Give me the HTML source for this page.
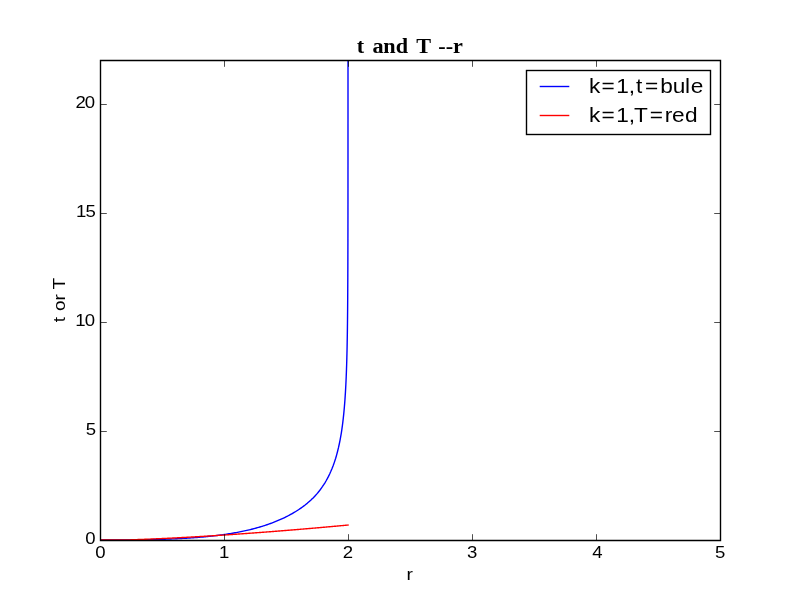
<!DOCTYPE html>
<html lang="en">
<head>
<meta charset="utf-8">
<title>t and T --r</title>
<style>
html,body{margin:0;padding:0;background:#fff;}
body{width:800px;height:600px;overflow:hidden;font-family:"Liberation Sans",sans-serif;}
svg{display:block;will-change:transform;}
text{fill:#000;filter:grayscale(1);}
</style>
</head>
<body>
<svg width="800" height="600" viewBox="0 0 800 600">
<rect x="0" y="0" width="800" height="600" fill="#ffffff"/>
<defs><clipPath id="ax"><rect x="100" y="60" width="620" height="480"/></clipPath></defs>

<g clip-path="url(#ax)" fill="none" stroke-width="1.389" stroke-linejoin="round" stroke-linecap="square">
<path d="M100.00 540.00 L101.18 540.00 L102.37 540.00 L103.55 540.00 L104.74 540.00 L105.92 540.00 L107.10 540.00 L108.29 540.00 L109.47 539.99 L110.66 539.99 L111.84 539.99 L113.02 539.99 L114.21 539.99 L115.39 539.98 L116.57 539.98 L117.76 539.97 L118.94 539.97 L120.13 539.96 L121.31 539.96 L122.49 539.95 L123.68 539.95 L124.86 539.94 L126.05 539.93 L127.23 539.92 L128.41 539.91 L129.60 539.90 L130.78 539.89 L131.97 539.88 L133.15 539.87 L134.33 539.86 L135.52 539.85 L136.70 539.83 L137.89 539.82 L139.07 539.80 L140.25 539.79 L141.44 539.77 L142.62 539.75 L143.81 539.73 L144.99 539.71 L146.17 539.69 L147.36 539.67 L148.54 539.64 L149.72 539.62 L150.91 539.60 L152.09 539.57 L153.28 539.54 L154.46 539.51 L155.64 539.48 L156.83 539.45 L158.01 539.42 L159.20 539.39 L160.38 539.35 L161.56 539.32 L162.75 539.28 L163.93 539.24 L165.12 539.20 L166.30 539.16 L167.48 539.12 L168.67 539.07 L169.85 539.03 L171.04 538.98 L172.22 538.93 L173.40 538.88 L174.59 538.83 L175.77 538.77 L176.95 538.72 L178.14 538.66 L179.32 538.60 L180.51 538.54 L181.69 538.47 L182.87 538.41 L184.06 538.34 L185.24 538.27 L186.43 538.20 L187.61 538.13 L188.79 538.05 L189.98 537.97 L191.16 537.89 L192.35 537.81 L193.53 537.73 L194.71 537.64 L195.90 537.55 L197.08 537.46 L198.27 537.36 L199.45 537.26 L200.63 537.16 L201.82 537.06 L203.00 536.95 L204.18 536.85 L205.37 536.73 L206.55 536.62 L207.74 536.50 L208.92 536.38 L210.10 536.26 L211.29 536.13 L212.47 536.00 L213.66 535.87 L214.84 535.73 L216.02 535.59 L217.21 535.44 L218.39 535.30 L219.58 535.14 L220.76 534.99 L221.94 534.83 L223.13 534.67 L224.31 534.50 L225.50 534.33 L226.68 534.15 L227.86 533.97 L229.05 533.78 L230.23 533.59 L231.42 533.40 L232.60 533.20 L233.78 533.00 L234.97 532.79 L236.15 532.57 L237.33 532.35 L238.52 532.13 L239.70 531.90 L240.89 531.66 L242.07 531.42 L243.25 531.18 L244.44 530.92 L245.62 530.66 L246.81 530.40 L247.99 530.12 L249.17 529.85 L250.36 529.56 L251.54 529.27 L252.73 528.97 L253.91 528.66 L255.09 528.35 L256.28 528.03 L257.46 527.70 L258.65 527.36 L259.83 527.02 L261.01 526.66 L262.20 526.30 L263.38 525.93 L264.56 525.55 L265.75 525.16 L266.93 524.77 L268.12 524.36 L269.30 523.94 L270.48 523.52 L271.67 523.08 L272.85 522.63 L274.04 522.17 L275.22 521.71 L276.40 521.23 L277.59 520.73 L278.77 520.23 L279.96 519.72 L281.14 519.19 L282.32 518.65 L283.51 518.10 L284.69 517.53 L285.88 516.95 L287.06 516.36 L288.24 515.75 L289.43 515.12 L290.61 514.48 L291.79 513.83 L292.98 513.15 L294.16 512.46 L295.35 511.75 L296.53 511.02 L297.71 510.26 L298.90 509.49 L300.08 508.69 L301.27 507.87 L302.45 507.02 L303.63 506.14 L304.82 505.24 L306.00 504.30 L307.19 503.34 L308.37 502.33 L309.55 501.29 L310.74 500.21 L311.92 499.09 L313.11 497.92 L314.29 496.70 L315.47 495.43 L316.66 494.10 L317.84 492.72 L319.03 491.26 L320.21 489.74 L321.39 488.13 L322.58 486.44 L323.76 484.66 L324.94 482.78 L326.13 480.77 L327.31 478.65 L328.50 476.38 L329.68 473.95 L330.86 471.33 L332.05 468.51 L333.23 465.45 L334.42 462.11 L335.60 458.44 L335.60 458.44 L336.65 454.87 L337.60 451.27 L338.48 447.66 L339.28 444.02 L340.02 440.37 L340.69 436.70 L341.31 433.02 L341.87 429.33 L342.39 425.62 L342.86 421.90 L343.29 418.17 L343.69 414.43 L344.05 410.69 L344.39 406.93 L344.69 403.17 L344.97 399.40 L345.22 395.62 L345.46 391.84 L345.67 388.06 L345.87 384.27 L346.05 380.47 L346.21 376.67 L346.36 372.87 L346.50 369.06 L346.63 365.26 L346.74 361.44 L346.85 357.63 L346.95 353.81 L347.04 349.99 L347.12 346.17 L347.19 342.35 L347.26 338.53 L347.32 334.70 L347.38 330.87 L347.43 327.04 L347.48 323.21 L347.52 319.38 L347.56 315.55 L347.60 311.72 L347.63 307.89 L347.66 304.05 L347.69 300.22 L347.72 296.38 L347.74 292.55 L347.76 288.71 L347.78 284.87 L347.80 281.04 L347.82 277.20 L347.83 273.36 L347.85 269.52 L347.86 265.68 L347.87 261.84 L347.88 258.00 L347.89 254.16 L347.90 250.32 L347.91 246.48 L347.92 242.64 L347.92 238.80 L347.93 234.96 L347.94 231.12 L347.94 227.28 L347.95 223.44 L347.95 219.60 L347.96 215.76 L347.96 211.92 L347.96 208.08 L347.97 204.23 L347.97 200.39 L347.97 196.55 L347.97 192.71 L347.98 188.87 L347.98 185.03 L347.98 181.19 L347.98 177.34 L347.98 173.50 L347.98 169.66 L347.99 165.82 L347.99 161.98 L347.99 158.13 L347.99 154.29 L347.99 150.45 L347.99 146.61 L347.99 142.77 L347.99 138.92 L347.99 135.08 L347.99 131.24 L347.99 127.40 L347.99 123.56 L348.00 119.71 L348.00 115.87 L348.00 112.03 L348.00 108.19 L348.00 104.35 L348.00 100.50 L348.00 96.66 L348.00 92.82 L348.00 88.98 L348.00 85.14 L348.00 81.29 L348.00 77.45 L348.00 73.61 L348.00 69.77 L348.00 65.92 L348.00 62.08 L348.00 58.24 L348.00 54.40 L348.00 50.56 L348.00 46.71 L348.00 42.87 L348.00 39.03 L348.00 35.19 L348.00 31.34 L348.00 27.50 L348.00 23.66 L348.00 19.82 L348.00 16.36" stroke="#0000ff"/>
<path d="M100.00 540.00 L100.62 540.00 L101.24 540.00 L101.86 540.00 L102.48 540.00 L103.10 540.00 L103.72 540.00 L104.34 540.00 L104.96 540.00 L105.58 540.00 L106.20 540.00 L106.82 540.00 L107.44 540.00 L108.06 540.00 L108.68 540.00 L109.30 540.00 L109.92 540.00 L110.54 540.00 L111.16 540.00 L111.78 540.00 L112.40 540.00 L113.02 540.00 L113.64 540.00 L114.26 540.00 L114.88 540.00 L115.50 540.00 L116.12 540.00 L116.74 540.00 L117.36 540.00 L117.98 540.00 L118.60 540.00 L119.22 540.00 L119.84 540.00 L120.46 540.00 L121.08 540.00 L121.70 540.00 L122.32 540.00 L122.94 540.00 L123.56 540.00 L124.18 540.00 L124.80 539.99 L125.42 539.97 L126.04 539.96 L126.66 539.94 L127.28 539.92 L127.90 539.90 L128.52 539.88 L129.14 539.86 L129.76 539.84 L130.38 539.82 L131.00 539.80 L131.62 539.78 L132.24 539.76 L132.86 539.74 L133.48 539.71 L134.10 539.69 L134.72 539.67 L135.34 539.65 L135.96 539.63 L136.58 539.61 L137.20 539.58 L137.82 539.56 L138.44 539.54 L139.06 539.52 L139.68 539.49 L140.30 539.47 L140.92 539.45 L141.54 539.42 L142.16 539.40 L142.78 539.37 L143.40 539.35 L144.02 539.33 L144.64 539.30 L145.26 539.28 L145.88 539.25 L146.50 539.23 L147.12 539.20 L147.74 539.18 L148.36 539.15 L148.98 539.13 L149.60 539.10 L150.22 539.07 L150.84 539.05 L151.46 539.02 L152.08 539.00 L152.70 538.97 L153.32 538.94 L153.94 538.92 L154.56 538.89 L155.18 538.86 L155.80 538.83 L156.42 538.81 L157.04 538.78 L157.66 538.75 L158.28 538.72 L158.90 538.69 L159.52 538.67 L160.14 538.64 L160.76 538.61 L161.38 538.58 L162.00 538.55 L162.62 538.52 L163.24 538.49 L163.86 538.46 L164.48 538.43 L165.10 538.41 L165.72 538.38 L166.34 538.35 L166.96 538.32 L167.58 538.29 L168.20 538.26 L168.82 538.22 L169.44 538.19 L170.06 538.16 L170.68 538.13 L171.30 538.10 L171.92 538.07 L172.54 538.04 L173.16 538.01 L173.78 537.98 L174.40 537.94 L175.02 537.91 L175.64 537.88 L176.26 537.85 L176.88 537.82 L177.50 537.78 L178.12 537.75 L178.74 537.72 L179.36 537.69 L179.98 537.65 L180.60 537.62 L181.22 537.59 L181.84 537.56 L182.46 537.52 L183.08 537.49 L183.70 537.46 L184.32 537.42 L184.94 537.39 L185.56 537.35 L186.18 537.32 L186.80 537.29 L187.42 537.25 L188.04 537.22 L188.66 537.18 L189.28 537.15 L189.90 537.11 L190.52 537.08 L191.14 537.04 L191.76 537.01 L192.38 536.97 L193.00 536.94 L193.62 536.90 L194.24 536.87 L194.86 536.83 L195.48 536.79 L196.10 536.76 L196.72 536.72 L197.34 536.69 L197.96 536.65 L198.58 536.61 L199.20 536.58 L199.82 536.54 L200.44 536.50 L201.06 536.47 L201.68 536.43 L202.30 536.39 L202.92 536.36 L203.54 536.32 L204.16 536.28 L204.78 536.24 L205.40 536.21 L206.02 536.17 L206.64 536.13 L207.26 536.09 L207.88 536.05 L208.50 536.02 L209.12 535.98 L209.74 535.94 L210.36 535.90 L210.98 535.86 L211.60 535.82 L212.22 535.78 L212.84 535.74 L213.46 535.71 L214.08 535.67 L214.70 535.63 L215.32 535.59 L215.94 535.55 L216.56 535.51 L217.18 535.47 L217.80 535.43 L218.42 535.39 L219.04 535.35 L219.66 535.31 L220.28 535.27 L220.90 535.23 L221.52 535.19 L222.14 535.15 L222.76 535.11 L223.38 535.07 L224.00 535.03 L224.62 534.98 L225.24 534.94 L225.86 534.90 L226.48 534.86 L227.10 534.82 L227.72 534.78 L228.34 534.74 L228.96 534.69 L229.58 534.65 L230.20 534.61 L230.82 534.57 L231.44 534.53 L232.06 534.49 L232.68 534.44 L233.30 534.40 L233.92 534.36 L234.54 534.32 L235.16 534.27 L235.78 534.23 L236.40 534.19 L237.02 534.14 L237.64 534.10 L238.26 534.06 L238.88 534.01 L239.50 533.97 L240.12 533.93 L240.74 533.88 L241.36 533.84 L241.98 533.80 L242.60 533.75 L243.22 533.71 L243.84 533.67 L244.46 533.62 L245.08 533.58 L245.70 533.53 L246.32 533.49 L246.94 533.44 L247.56 533.40 L248.18 533.35 L248.80 533.31 L249.42 533.26 L250.04 533.22 L250.66 533.17 L251.28 533.13 L251.90 533.08 L252.52 533.04 L253.14 532.99 L253.76 532.95 L254.38 532.90 L255.00 532.86 L255.62 532.81 L256.24 532.77 L256.86 532.72 L257.48 532.67 L258.10 532.63 L258.72 532.58 L259.34 532.53 L259.96 532.49 L260.58 532.44 L261.20 532.40 L261.82 532.35 L262.44 532.30 L263.06 532.25 L263.68 532.21 L264.30 532.16 L264.92 532.11 L265.54 532.07 L266.16 532.02 L266.78 531.97 L267.40 531.92 L268.02 531.88 L268.64 531.83 L269.26 531.78 L269.88 531.73 L270.50 531.69 L271.12 531.64 L271.74 531.59 L272.36 531.54 L272.98 531.49 L273.60 531.44 L274.22 531.40 L274.84 531.35 L275.46 531.30 L276.08 531.25 L276.70 531.20 L277.32 531.15 L277.94 531.10 L278.56 531.05 L279.18 531.01 L279.80 530.96 L280.42 530.91 L281.04 530.86 L281.66 530.81 L282.28 530.76 L282.90 530.71 L283.52 530.66 L284.14 530.61 L284.76 530.56 L285.38 530.51 L286.00 530.46 L286.62 530.41 L287.24 530.36 L287.86 530.31 L288.48 530.26 L289.10 530.21 L289.72 530.16 L290.34 530.11 L290.96 530.06 L291.58 530.01 L292.20 529.95 L292.82 529.90 L293.44 529.85 L294.06 529.80 L294.68 529.75 L295.30 529.70 L295.92 529.65 L296.54 529.60 L297.16 529.54 L297.78 529.49 L298.40 529.44 L299.02 529.39 L299.64 529.34 L300.26 529.29 L300.88 529.23 L301.50 529.18 L302.12 529.13 L302.74 529.08 L303.36 529.02 L303.98 528.97 L304.60 528.92 L305.22 528.87 L305.84 528.81 L306.46 528.76 L307.08 528.71 L307.70 528.66 L308.32 528.60 L308.94 528.55 L309.56 528.50 L310.18 528.44 L310.80 528.39 L311.42 528.34 L312.04 528.28 L312.66 528.23 L313.28 528.18 L313.90 528.12 L314.52 528.07 L315.14 528.01 L315.76 527.96 L316.38 527.91 L317.00 527.85 L317.62 527.80 L318.24 527.74 L318.86 527.69 L319.48 527.64 L320.10 527.58 L320.72 527.53 L321.34 527.47 L321.96 527.42 L322.58 527.36 L323.20 527.31 L323.82 527.25 L324.44 527.20 L325.06 527.14 L325.68 527.09 L326.30 527.03 L326.92 526.98 L327.54 526.92 L328.16 526.87 L328.78 526.81 L329.40 526.75 L330.02 526.70 L330.64 526.64 L331.26 526.59 L331.88 526.53 L332.50 526.48 L333.12 526.42 L333.74 526.36 L334.36 526.31 L334.98 526.25 L335.60 526.19 L336.22 526.14 L336.84 526.08 L337.46 526.03 L338.08 525.97 L338.70 525.91 L339.32 525.86 L339.94 525.80 L340.56 525.74 L341.18 525.68 L341.80 525.63 L342.42 525.57 L343.04 525.51 L343.66 525.46 L344.28 525.40 L344.90 525.34 L345.52 525.28 L346.14 525.23 L346.76 525.17 L347.38 525.11 L348.00 525.05" stroke="#ff0000"/>
</g>
<g fill="none" stroke="#000" stroke-width="1.389" stroke-linecap="square">
<path d="M100.5 60.5 H720.5 V540.5 H100.5 Z"/>
</g>
<path d="M100.5 540.50 v-6.30 M100.5 60.50 v6.30 M224.5 540.50 v-6.30 M224.5 60.50 v6.30 M348.5 540.50 v-6.30 M348.5 60.50 v6.30 M472.5 540.50 v-6.30 M472.5 60.50 v6.30 M596.5 540.50 v-6.30 M596.5 60.50 v6.30 M720.5 540.50 v-6.30 M720.5 60.50 v6.30 M100.50 540.5 h6.30 M720.50 540.5 h-6.30 M100.50 431.5 h6.30 M720.50 431.5 h-6.30 M100.50 322.5 h6.30 M720.50 322.5 h-6.30 M100.50 213.5 h6.30 M720.50 213.5 h-6.30 M100.50 104.5 h6.30 M720.50 104.5 h-6.30" fill="none" stroke="#000" stroke-width="0.694"/>
<g>
<text transform="scale(1.0800,1)" x="88.23" y="558.00" font-family="'Liberation Sans', sans-serif" font-size="17.20">0</text>
<text transform="scale(1.0800,1)" x="202.76" y="558.00" font-family="'Liberation Sans', sans-serif" font-size="17.20">1</text>
<text transform="scale(1.0800,1)" x="317.44" y="558.00" font-family="'Liberation Sans', sans-serif" font-size="17.20">2</text>
<text transform="scale(1.0800,1)" x="432.49" y="558.00" font-family="'Liberation Sans', sans-serif" font-size="17.20">3</text>
<text transform="scale(1.0800,1)" x="548.33" y="558.00" font-family="'Liberation Sans', sans-serif" font-size="17.20">4</text>
<text transform="scale(1.0800,1)" x="661.99" y="558.00" font-family="'Liberation Sans', sans-serif" font-size="17.20">5</text>
<text transform="scale(1.0800,1)" x="78.87" y="544.00" font-family="'Liberation Sans', sans-serif" font-size="17.20">0</text>
<text transform="scale(1.0800,1)" x="79.31" y="435.00" font-family="'Liberation Sans', sans-serif" font-size="17.20">5</text>
<text transform="scale(1.0800,1)" x="69.61 78.55" y="326.00" font-family="'Liberation Sans', sans-serif" font-size="17.20">10</text>
<text transform="scale(1.0800,1)" x="70.35 79.26" y="217.00" font-family="'Liberation Sans', sans-serif" font-size="17.20">15</text>
<text transform="scale(1.0800,1)" x="69.85 78.55" y="108.00" font-family="'Liberation Sans', sans-serif" font-size="17.20">20</text>
</g>
<text transform="scale(1.1200,1)" x="362.87" y="579.80" font-family="'Liberation Sans', sans-serif" font-size="17.20">r</text>
<text transform="rotate(-90) scale(1.1000,1)" x="-292.91 -288.13 -282.74 -273.29 -267.56 -263.11" y="65.00" font-family="'Liberation Sans', sans-serif" font-size="17.20">t or T</text>
<text transform="scale(1.0600,1)" x="336.59 343.59 351.43 361.58 373.38 385.06 392.68 406.69 413.44 420.42 427.36" y="52.60" font-family="'Liberation Serif', serif" font-size="21.00" font-weight="bold">t and T --r</text>
<rect x="526.5" y="70.5" width="184" height="64" fill="#fff" stroke="#000" stroke-width="1.389"/>
<path d="M539.7 86.5 H569.3" stroke="#0000ff" stroke-width="1.389" fill="none"/>
<path d="M539.7 115.5 H569.3" stroke="#ff0000" stroke-width="1.389" fill="none"/>
<text transform="scale(1.1000,1)" x="535.37 546.85 560.22 571.55 578.29 586.31 600.22 611.70 622.71 627.93" y="93.00" font-family="'Liberation Sans', sans-serif" font-size="20.60">k=1,t=bule</text>
<text transform="scale(1.1000,1)" x="535.37 546.85 560.22 571.55 576.44 590.63 604.24 610.97 622.68" y="122.00" font-family="'Liberation Sans', sans-serif" font-size="20.60">k=1,T=red</text>
</svg>
</body>
</html>
